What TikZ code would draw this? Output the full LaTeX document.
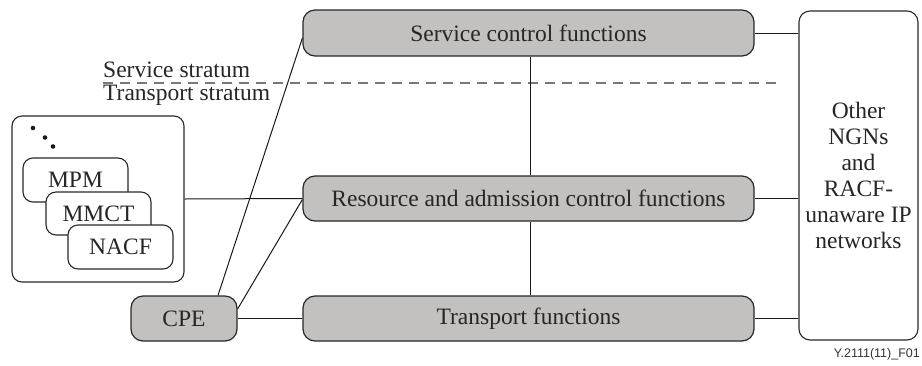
\documentclass[tikz,border=0pt]{standalone}
\usepackage{fontspec}
\setmainfont{Liberation Serif}
\newfontfamily\labelsans{Liberation Sans}
\usetikzlibrary{calc}
\definecolor{boxgray}{RGB}{194,193,192}
\definecolor{edgegray}{RGB}{40,40,40}
\definecolor{dashgray}{RGB}{120,120,120}
\tikzset{
  funcbox/.style={draw=edgegray, line width=1.2pt, fill=boxgray, rounded corners=12pt,
    inner sep=0pt, font=\fontsize{23.5}{26}\selectfont, text=black!85},
  whitebox/.style={draw=edgegray, line width=1.1pt, fill=white, rounded corners=11pt,
    inner sep=0pt, font=\fontsize{23.5}{26}\selectfont, text=black!85},
  conn/.style={draw=black!90, line width=1pt},
}
\begin{document}
\begin{tikzpicture}[x=1pt,y=-1pt]
\useasboundingbox (0,0) rectangle (922,365);
% main function boxes
\node[funcbox, minimum width=451pt, minimum height=46pt] (sc) at (528.5,33) {Service control functions};
\node[funcbox, minimum width=451pt, minimum height=45pt] (racf) at (528.5,198.5) {Resource and admission control functions};
\node[funcbox, minimum width=451pt, minimum height=45pt] (tf) at (528.5,318.5) {Transport functions};
\node[funcbox, minimum width=106pt, minimum height=45pt] (cpe) at (184,318.5) {CPE};
% other networks
\node[whitebox, minimum width=119pt, minimum height=329pt, align=center] (other) at (858.5,175.5)
  {Other\\NGNs\\and\\RACF-\\unaware IP\\networks};
% left group
\node[whitebox, minimum width=172pt, minimum height=166pt, rounded corners=10pt] (grp) at (98,199) {};
\node[whitebox, minimum width=105pt, minimum height=44pt, rounded corners=10pt] (mpm) at (75.5,180) {MPM};
\node[whitebox, minimum width=105pt, minimum height=43pt, rounded corners=10pt] (mmct) at (98.5,213.5) {MMCT};
\node[whitebox, minimum width=105pt, minimum height=44pt, rounded corners=10pt] (nacf) at (120.5,247) {NACF};
\fill[black!90] (33,128) circle (2.3pt) (45,137.5) circle (2.3pt) (53,146.5) circle (2.3pt);
% strata
\node[anchor=base west, inner sep=0pt, font=\fontsize{23.5}{26}\selectfont, text=black!85] (ss) at (103,77) {Service stratum};
\node[anchor=base west, inner sep=0pt, font=\fontsize{23.5}{26}\selectfont, text=black!85] (ts) at (103,100) {Transport stratum};
\coordinate (dl) at (103,83);
\coordinate (dr) at (783,83);
\draw[dashgray, line width=1.3pt, dash pattern=on 10pt off 7pt] (dl) -- (dr);
% connectors
\draw[conn] (sc.south -| 530,0) -- (racf.north -| 530,0);
\draw[conn] (racf.south -| 530,0) -- (tf.north -| 530,0);
\draw[conn] (sc.east) -- (sc.east -| other.west);
\draw[conn] (racf.east) -- (racf.east -| other.west);
\draw[conn] (tf.east) -- (tf.east -| other.west);
\draw[conn] (grp.east) -- (racf.west);
\draw[conn] (cpe.east) -- (tf.west);
\draw[conn] ([yshift=-5pt]sc.west) -- ([xshift=34pt]cpe.north);
\draw[conn] ([yshift=9.5pt]cpe.east) -- ([yshift=-1pt]racf.west);
% figure label
\node[anchor=base east, inner sep=0pt, font=\labelsans\fontsize{12.5}{14}\selectfont, text=black!80] (fig) at (920,357) {Y.2111(11)\_F01};
\end{tikzpicture}
\end{document}
